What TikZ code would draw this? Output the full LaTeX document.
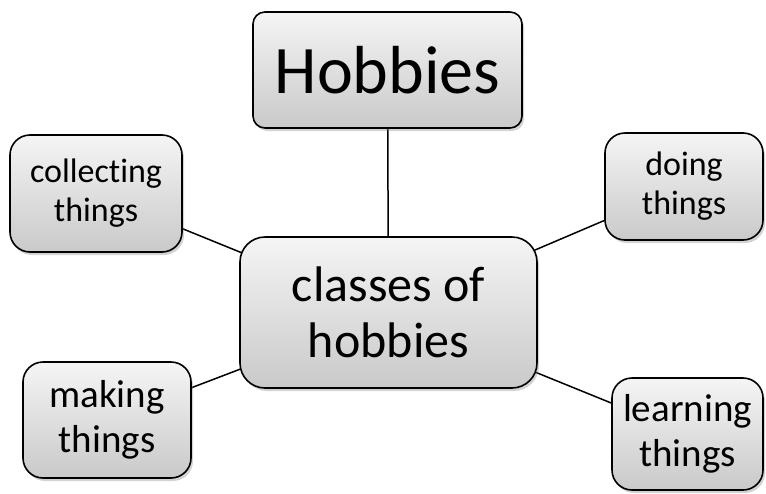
\documentclass[tikz,border=0pt]{standalone}
\usepackage{fontspec}
\setmainfont{Carlito}[Ligatures={NoCommon}]
\usetikzlibrary{shadows,backgrounds}
\tikzset{
	hobbybox/.style={draw=black, line width=1.6pt, align=center, inner sep=0pt,
		top color=gray!8, bottom color=gray!42,
		drop shadow={opacity=0.35, shadow xshift=2pt, shadow yshift=-3pt}},
	link/.style={draw=black, line width=1.5pt}
}
\begin{document}
\begin{tikzpicture}[x=1pt, y=-1pt]
		%%%%% START %%%%%
		\useasboundingbox (0, 0) rectangle (766, 493);
		
		\node[hobbybox, rounded corners=12pt, minimum width=269pt, minimum height=116pt,
			font=\fontsize{68}{80}\selectfont] (top) at (387.5, 70) {Hobbies};
		\node[hobbybox, rounded corners=25pt, minimum width=297pt, minimum height=151pt,
			font=\fontsize{50}{56}\selectfont] (hub) at (388.5, 312.5) {classes of\\hobbies};
		
		\node[hobbybox, rounded corners=20pt, minimum width=172pt, minimum height=117pt,
			font=\fontsize{34}{39}\selectfont] (collect) at (96, 193.5) {collec\kern0pt ting\\things};
		\node[hobbybox, rounded corners=20pt, minimum width=158pt, minimum height=107pt,
			font=\fontsize{34}{39}\selectfont] (doing) at (684, 186.5) {doing\\things};
		\node[hobbybox, rounded corners=20pt, minimum width=168pt, minimum height=116pt,
			font=\fontsize{39}{45}\selectfont] (making) at (107, 420) {making\\things};
		\node[hobbybox, rounded corners=20pt, minimum width=151pt, minimum height=112pt,
			font=\fontsize{39}{45}\selectfont] (learning) at (687.5, 434) {learning\\things};
		
		\begin{pgfonlayer}{background}
			\foreach \leaf in {top, collect, doing, making, learning}
				\draw[link] (hub.center) -- (\leaf.center);
		\end{pgfonlayer}
		
		%%%%% END %%%%%
	\end{tikzpicture}
\end{document}
